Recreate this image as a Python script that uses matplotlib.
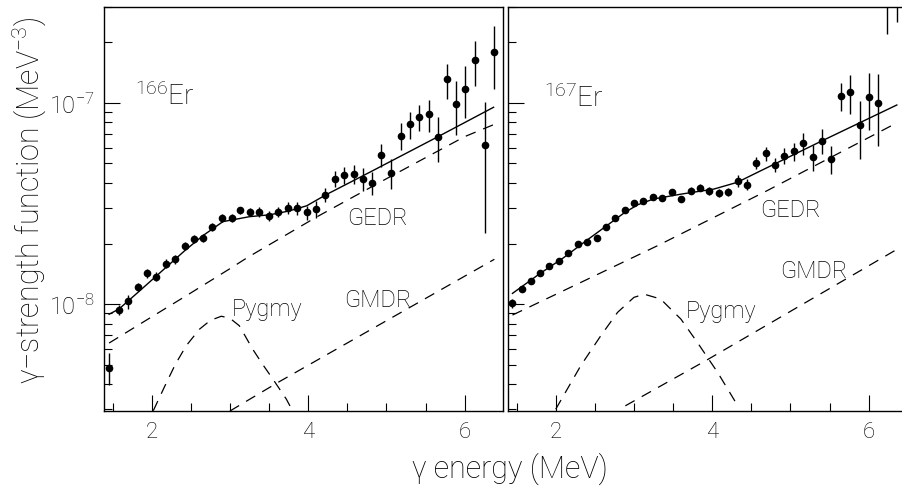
import numpy as np
import matplotlib
matplotlib.use('Agg')
import matplotlib.pyplot as plt
from matplotlib.ticker import FixedLocator, FixedFormatter, LogLocator, NullFormatter

# 字型設定
plt.rcParams['font.family'] = ['Roboto', 'DejaVu Sans']
plt.rcParams['font.weight'] = 'light'
plt.rcParams['mathtext.default'] = 'regular'
plt.rcParams['axes.linewidth'] = 1.0

# 166Er 資料 (MeV, 單位 1e-8 MeV^-3)
x166 = [1.455, 1.58, 1.70, 1.82, 1.94, 2.055, 2.18, 2.30, 2.42, 2.54, 2.655, 2.775, 2.90, 3.02,
        3.13, 3.25, 3.375, 3.50, 3.62, 3.74, 3.86, 3.98, 4.10, 4.22, 4.34, 4.46, 4.58, 4.695,
        4.81, 4.93, 5.06, 5.18, 5.295, 5.41, 5.54, 5.66, 5.78, 5.895, 6.01, 6.13, 6.26, 6.38]
y166 = [0.482, 0.937, 1.03, 1.22, 1.42, 1.37, 1.59, 1.67, 1.94, 2.11, 2.13, 2.43, 2.67, 2.67,
        2.92, 2.87, 2.87, 2.75, 2.87, 3.00, 3.00, 2.86, 2.97, 3.50, 4.20, 4.38, 4.45, 4.19,
        4.01, 5.53, 4.49, 6.88, 7.83, 8.52, 8.79, 6.80, 13.1, 9.93, 11.8, 16.3, 6.16, 17.9]
e166 = [0.088, 0.056, 0.082, 0.06, 0.07, 0.07, 0.08, 0.08, 0.09, 0.10, 0.10, 0.11, 0.12, 0.12,
        0.13, 0.14, 0.17, 0.15, 0.17, 0.20, 0.22, 0.23, 0.28, 0.28, 0.38, 0.44, 0.49, 0.55,
        0.52, 0.75, 0.75, 1.05, 1.2, 1.3, 1.6, 1.7, 2.6, 3.0, 3.4, 4.1, 3.9, 6.1]

# 167Er 資料
x167 = [1.447, 1.566, 1.684, 1.80, 1.92, 2.04, 2.16, 2.28, 2.405, 2.524, 2.643, 2.763, 2.88, 3.0,
        3.12, 3.24, 3.364, 3.482, 3.606, 3.725, 3.844, 3.964, 4.083, 4.207, 4.326, 4.445, 4.565,
        4.684, 4.808, 4.922, 5.04, 5.16, 5.284, 5.403, 5.523, 5.642, 5.761, 5.885, 6.004, 6.124,
        6.24, 6.36]
y167 = [1.01, 1.19, 1.30, 1.43, 1.55, 1.64, 1.80, 2.00, 2.03, 2.13, 2.43, 2.68, 2.95, 3.18,
        3.25, 3.40, 3.38, 3.60, 3.32, 3.66, 3.79, 3.65, 3.58, 3.62, 4.09, 3.93, 5.02,
        5.62, 4.93, 5.45, 5.75, 6.33, 5.38, 6.49, 5.28, 10.87, 11.3, 7.74, 10.74, 10.04,
        36.0, 34.0]
e167 = [0.05, 0.04, 0.04, 0.04, 0.04, 0.05, 0.05, 0.05, 0.05, 0.06, 0.07, 0.07, 0.08, 0.08,
        0.09, 0.10, 0.11, 0.12, 0.12, 0.14, 0.15, 0.15, 0.16, 0.17, 0.28, 0.24, 0.35,
        0.45, 0.40, 0.49, 0.58, 0.79, 0.81, 0.94, 0.85, 1.74, 2.5, 2.5, 3.4, 3.9,
        14.1, 8.8]

# 擬合曲線
tot166_x = [1.455, 1.58, 1.82, 2.06, 2.42, 2.655, 2.91, 3.25, 3.51, 3.75, 3.98, 4.23, 4.785, 5.66, 6.37]
tot166_y = [8.9e-9, 9.44e-9, 1.14e-8, 1.38e-8, 1.84e-8, 2.19e-8, 2.57e-8, 2.72e-8, 2.78e-8, 2.90e-8,
            3.08e-8, 3.50e-8, 4.52e-8, 6.80e-8, 9.52e-8]
gedr166_x = [1.455, 2.0, 2.49, 3.0, 3.23, 4.1, 5.0, 6.0, 6.37]
gedr166_y = [6.4e-9, 8.64e-9, 1.13e-8, 1.50e-8, 1.71e-8, 2.70e-8, 4.2e-8, 6.8e-8, 7.8e-8]
gmdr166_x = [3.0, 3.61, 6.38]
gmdr166_y = [2.94e-9, 4.07e-9, 1.67e-8]
pyg166_x = [2.02, 2.17, 2.30, 2.44, 2.61, 2.75, 2.89, 3.00, 3.12, 3.29, 3.42, 3.55, 3.72, 3.80]
pyg166_y = [2.95e-9, 3.93e-9, 5.0e-9, 6.2e-9, 7.5e-9, 8.3e-9, 8.7e-9, 8.5e-9, 7.8e-9, 5.97e-9,
            5.0e-9, 4.23e-9, 3.37e-9, 2.95e-9]

tot167_x = [1.447, 1.80, 2.10, 2.40, 2.65, 2.88, 3.05, 3.25, 3.60, 4.02, 4.32, 4.62, 5.40, 6.36]
tot167_y = [1.13e-8, 1.42e-8, 1.70e-8, 2.08e-8, 2.45e-8, 2.85e-8, 3.12e-8, 3.33e-8, 3.52e-8,
            3.73e-8, 4.03e-8, 4.6e-8, 6.47e-8, 9.77e-8]
gedr167_x = [1.447, 2.3, 3.3, 4.7, 6.37]
gedr167_y = [8.82e-9, 1.27e-8, 1.95e-8, 3.66e-8, 8.0e-8]
gmdr167_x = [2.89, 3.917, 6.37]
gmdr167_y = [3.12e-9, 5.23e-9, 1.88e-8]
pyg167_x = [2.0, 2.32, 2.575, 2.79, 3.0, 3.13, 3.34, 3.60, 3.81, 4.07, 4.34]
pyg167_y = [3.0e-9, 4.94e-9, 6.95e-9, 9.09e-9, 1.08e-8, 1.12e-8, 1.06e-8, 8.42e-9, 6.45e-9,
            4.57e-9, 3.06e-9]

XLIM = (1.39, 6.49)
YLIM = (2.94e-9, 3.0e-7)
DASH = (0, (8.5, 6.5))


def setup_axes(ax, show_ylabels):
    ax.set_yscale('log')
    ax.set_xlim(*XLIM)
    ax.set_ylim(*YLIM)
    ax.xaxis.set_major_locator(FixedLocator([2, 4, 6]))
    ax.xaxis.set_minor_locator(FixedLocator(np.arange(1.5, 6.6, 0.5)))
    ax.xaxis.set_major_formatter(FixedFormatter(['2', '4', '6']))
    ax.yaxis.set_major_locator(FixedLocator([1e-8, 1e-7]))
    ax.yaxis.set_minor_locator(LogLocator(base=10, subs=np.arange(2, 10)))
    ax.yaxis.set_minor_formatter(NullFormatter())
    if show_ylabels:
        ax.yaxis.set_major_formatter(FixedFormatter([r'$10^{-8}$', r'$10^{-7}$']))
    else:
        ax.yaxis.set_major_formatter(NullFormatter())
    ax.tick_params(which='major', direction='in', length=11.5, width=0.8, labelsize=17, pad=7)
    ax.tick_params(axis='x', which='major', labelsize=16)
    ax.tick_params(which='minor', direction='in', length=5.8, width=0.8)


def draw_panel(ax, x, y, e, tot, gedr, gmdr, pyg):
    ax.errorbar(x, np.array(y) * 1e-8, yerr=np.array(e) * 1e-8, fmt='o', ms=4.5,
                color='k', ecolor='k', elinewidth=1.0, capsize=0)
    ax.plot(tot[0], tot[1], color='k', lw=1.0)
    ax.plot(gedr[0], gedr[1], color='k', lw=0.9, linestyle=DASH)
    ax.plot(gmdr[0], gmdr[1], color='k', lw=0.9, linestyle=DASH)
    ax.plot(pyg[0], pyg[1], color='k', lw=0.9, linestyle=DASH)


fig = plt.figure(figsize=(9.02, 4.89), dpi=100)
ax1 = fig.add_axes([104 / 902, 77 / 489, 399 / 902, 404 / 489])
ax2 = fig.add_axes([508 / 902, 77 / 489, 399 / 902, 404 / 489])

setup_axes(ax1, True)
setup_axes(ax2, False)

draw_panel(ax1, x166, y166, e166, (tot166_x, tot166_y), (gedr166_x, gedr166_y),
           (gmdr166_x, gmdr166_y), (pyg166_x, pyg166_y))
draw_panel(ax2, x167, y167, e167, (tot167_x, tot167_y), (gedr167_x, gedr167_y),
           (gmdr167_x, gmdr167_y), (pyg167_x, pyg167_y))

# 標籤文字
ax1.text(1.783, 9.9e-8, r'$^{166}$Er', fontsize=20)
ax2.text(1.847, 9.7e-8, r'$^{167}$Er', fontsize=20)
ax1.text(4.886, 2.68e-8, 'GEDR', fontsize=17, ha='center', va='center')
ax1.text(4.886, 1.06e-8, 'GMDR', fontsize=17, ha='center', va='center')
ax1.text(3.48, 9.55e-9, 'Pygmy', fontsize=17, ha='center', va='center')
ax2.text(5.0, 2.97e-8, 'GEDR', fontsize=17, ha='center', va='center')
ax2.text(5.30, 1.475e-8, 'GMDR', fontsize=17, ha='center', va='center')
ax2.text(4.11, 9.3e-9, 'Pygmy', fontsize=17, ha='center', va='center')

fig.text(510 / 902, 1 - 469 / 489, 'γ energy (MeV)', fontsize=22, ha='center', va='center')
fig.text(29 / 902, 1 - 200 / 489, 'γ−strength function (MeV$^{-3}$)', fontsize=22,
         ha='center', va='center', rotation=90)

fig.savefig('out.png', dpi=100)
